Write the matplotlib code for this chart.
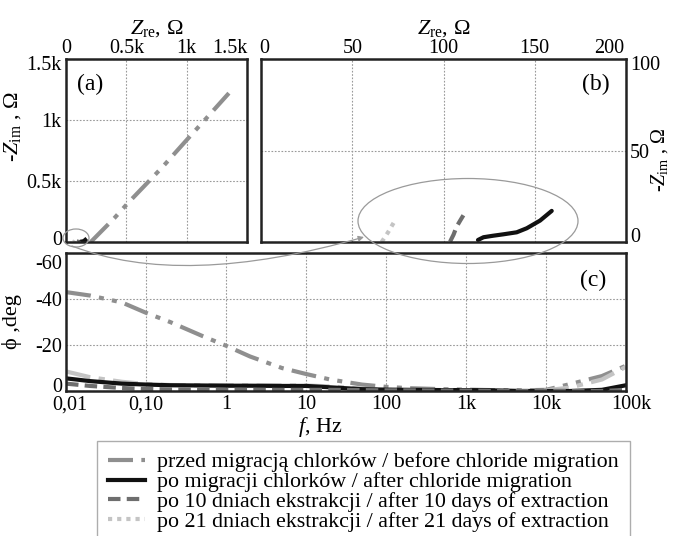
import matplotlib
matplotlib.use("Agg")
import matplotlib.pyplot as plt
from matplotlib.patches import Ellipse, FancyArrowPatch
from matplotlib.path import Path
from matplotlib.lines import Line2D
from matplotlib.transforms import ScaledTranslation

plt.rcParams['font.family'] = ['Liberation Serif', 'DejaVu Serif']
plt.rcParams['mathtext.fontset'] = 'custom'
plt.rcParams['mathtext.rm'] = 'Liberation Serif'
plt.rcParams['mathtext.it'] = 'Liberation Serif:italic'
plt.rcParams['font.size'] = 14

# ---------------- data ----------------
labels = ["przed migracją chlorków / before chloride migration",
          "po migracji chlorków / after chloride migration",
          "po 10 dniach ekstrakcji / after 10 days of extraction",
          "po 21 dniach ekstrakcji / after 21 days of extraction"]

# Nyquist data (Z_re, -Z_im), ohm
before_zre = [205, 300, 400, 514, 650, 800, 1000, 1150, 1350]
before_zim = [0, 95, 195, 320, 460, 615, 836, 1000, 1220]
after_zre = [118.9, 121.9, 127, 132.8, 140.1, 145.6, 152.9, 159.3]
after_zim = [1.1, 2.6, 3.4, 4.2, 5.3, 7.5, 11.7, 17.0]
d10_zre = [103.6, 105.5, 107.2, 109.2, 110.9]
d10_zim = [0.2, 4.0, 8.4, 11.8, 14.6]
d21_zre = [66.1, 68.0, 69.8, 71.8, 73.8]
d21_zim = [0.0, 2.8, 5.6, 9.0, 12.4]

# Bode phase data
freq = [0.01, 0.02, 0.05, 0.1, 0.2, 0.5, 1, 2, 5, 10, 20, 50, 100, 200, 500,
        1e3, 2e3, 5e3, 1e4, 2e4, 5e4, 1e5]
phase_before = [-43, -41.5, -38.5, -34, -30, -24, -19.7, -15, -10, -7.4, -5,
                -2.8, -1.8, -1.2, -0.8, -0.6, -0.4, -0.3, -0.5, -3, -6.5, -11]
phase_after = [-5.5, -4.3, -3.2, -2.8, -2.5, -2.4, -2.3, -2.3, -2.2, -2.2, -1.6,
               -0.8, -0.6, -0.5, -0.4, -0.4, -0.3, 0, 0, 0, -0.5, -2.5]
phase_d10 = [-3.2, -2.2, -1.3, -0.9, -0.7, -0.6, -0.5, -0.5, -0.5, -0.5, -0.5,
             -0.4, -0.3, -0.3, -0.2, -0.2, 0, 0, 0, 0, 0, -0.5]
phase_d21 = [-8.5, -6, -4, -3, -2.6, -2.5, -2.5, -2.4, -2.4, -2.4, -2.0,
             -1.0, -0.5, -0.3, -0.2, -0.2, 0, 0, -0.3, -1.5, -5, -10.5]

a_ticks = [0, 500, 1000, 1500]
a_ticklabels = ["0", "0.5k", "1k", "1.5k"]
b_xticks = [0, 50, 100, 150, 200]
b_yticks = [0, 50, 100]
c_yticks = [0, -20, -40, -60]
c_xticks = [0.01, 0.1, 1, 10, 100, 1e3, 1e4, 1e5]
c_xticklabels = ["0,01", "0,10", "1", "10", "100", "1k", "10k", "100k"]

# ---------------- styles ----------------
c_before = '#8f8f8f'
c_after = '#111111'
c_d10 = '#6e6e6e'
c_d21 = '#c4c4c4'
ls_before = (0, (6, 2, 1.2, 2, 1.2, 2))
ls_d10 = (0, (3, 1.5))
ls_d21 = (0, (1, 1.2))
lw = 3.0
TFS = 14.5

W, H = 673, 536
fig = plt.figure(figsize=(W / 100, H / 100), dpi=100)

def ax_rect(x0, y0, x1, y1):
    return [x0 / W, 1 - y1 / H, (x1 - x0) / W, (y1 - y0) / H]

axa = fig.add_axes(ax_rect(66, 59, 247, 242))
axb = fig.add_axes(ax_rect(261, 59, 626, 242))
axc = fig.add_axes(ax_rect(66, 253, 626, 391))

grid_kw = dict(color='#999999', linestyle=(0, (1.5, 1.5)), linewidth=0.8)

for ax in (axa, axb, axc):
    for s in ax.spines.values():
        s.set_linewidth(1.8)
        s.set_color('#222222')
    ax.tick_params(length=0, labelsize=TFS, pad=3)
    ax.grid(True, **grid_kw)
for ax in (axa, axb):
    ax.tick_params(axis='x', pad=1)

# ---- panel a ----
axa.plot(before_zre, before_zim, color=c_before, lw=lw, ls=ls_before)
axa.plot(after_zre, after_zim, color=c_after, lw=lw)
axa.plot(d10_zre, d10_zim, color=c_d10, lw=lw, ls=ls_d10)
axa.plot(d21_zre, d21_zim, color=c_d21, lw=lw, ls=ls_d21)
axa.set_xlim(0, 1500)
axa.set_ylim(0, 1500)
axa.set_xticks(a_ticks)
axa.set_xticklabels(a_ticklabels)
axa.set_yticks(a_ticks)
axa.set_yticklabels(a_ticklabels)
axa.xaxis.tick_top()
axa.xaxis.set_label_position('top')
axa.set_xlabel(r'$Z_{\rm re}$, Ω', fontsize=16, labelpad=4)
axa.set_ylabel(r'-$Z_{\rm im}$ , Ω', fontsize=16)
axa.yaxis.set_label_coords(-0.24, 0.63)
axa.text(0.06, 0.92, '(a)', transform=axa.transAxes, fontsize=17, va='top')

# ---- panel b ----
axb.plot(after_zre, after_zim, color=c_after, lw=lw, solid_capstyle='round')
axb.plot(d10_zre, d10_zim, color=c_d10, lw=lw, ls=ls_d10)
axb.plot(d21_zre, d21_zim, color=c_d21, lw=lw, ls=ls_d21)
axb.plot(before_zre, before_zim, color=c_before, lw=lw, ls=ls_before)
axb.set_xlim(0, 200)
axb.set_ylim(0, 100)
axb.set_xticks(b_xticks)
axb.set_yticks(b_yticks)
axb.xaxis.tick_top()
axb.xaxis.set_label_position('top')
axb.yaxis.tick_right()
axb.yaxis.set_label_position('right')
axb.set_xlabel(r'$Z_{\rm re}$, Ω', fontsize=16, labelpad=4)
axb.set_ylabel(r'-$Z_{\rm im}$ , Ω', fontsize=14.5, rotation=90)
axb.yaxis.set_label_coords(1.062, 0.45)
axb.text(0.955, 0.92, '(b)', transform=axb.transAxes, fontsize=17, va='top', ha='right')

# ---- panel c ----
axc.plot(freq, phase_before, color=c_before, lw=lw, ls=ls_before)
axc.plot(freq, phase_d21, color=c_d21, lw=lw, ls=(0, (6, 2, 1.5, 2)))
axc.plot(freq, phase_after, color=c_after, lw=lw)
axc.plot(freq, phase_d10, color=c_d10, lw=lw, ls=ls_d10)
axc.set_xscale('log')
axc.set_xlim(0.01, 1e5)
axc.set_ylim(0, -60)
axc.set_yticks(c_yticks)
axc.set_yticklabels([str(v) for v in c_yticks])
axc.set_xticks(c_xticks)
axc.set_xticklabels(c_xticklabels)
axc.minorticks_off()
axc.set_xlabel(r'$f$, Hz', fontsize=16)
axc.xaxis.set_label_coords(0.454, -0.175)
axc.set_ylabel('ϕ ,deg', fontsize=16)
axc.yaxis.set_label_coords(-0.078, 0.5)
axc.text(0.965, 0.88, '(c)', transform=axc.transAxes, fontsize=17, va='top', ha='right')

# ---- nudge edge tick labels inward, like the reference ----
def shift(lbl, dx, dy):
    lbl.set_transform(lbl.get_transform() +
                      ScaledTranslation(dx / 100, -dy / 100, fig.dpi_scale_trans))

ya = axa.get_yticklabels(); shift(ya[0], 0, -4); shift(ya[-1], 0, 4)
xa = axa.get_xticklabels(); xa[-1].set_ha('right')
yb = axb.get_yticklabels(); shift(yb[0], 0, -7); shift(yb[-1], 0, 4)
xb = axb.get_xticklabels(); xb[-1].set_ha('right'); shift(xb[-1], -2, 0); shift(xb[0], 3, 0)
yc = axc.get_yticklabels(); shift(yc[0], 0, -6); shift(yc[-1], 0, 9)
xc = axc.get_xticklabels(); shift(xc[0], 4, 0); shift(xc[-1], 5, 0)

# ---- zoom ellipses and connector (figure pixel coords) ----
def fp(x, y):
    return (x / W, 1 - y / H)

e_col = '#9a9a9a'
fig.patches.append(Ellipse(fp(76, 238), 26 / W, 18 / H, transform=fig.transFigure,
                           fill=False, edgecolor=e_col, lw=0.9, zorder=10))
fig.patches.append(Ellipse(fp(468, 221), 220 / W, 85 / H, transform=fig.transFigure,
                           fill=False, edgecolor=e_col, lw=0.9, zorder=10))
pth = Path([fp(72, 246), fp(182, 289), fp(364, 237)],
           [Path.MOVETO, Path.CURVE3, Path.CURVE3])
arr = FancyArrowPatch(path=pth, arrowstyle='-|>', mutation_scale=8,
                      color=e_col, lw=0.9, transform=fig.transFigure, zorder=10)
fig.patches.append(arr)

# ---- legend ----
handles = [Line2D([], [], color=c_before, lw=lw, ls=ls_before),
           Line2D([], [], color=c_after, lw=lw),
           Line2D([], [], color=c_d10, lw=lw, ls=ls_d10),
           Line2D([], [], color=c_d21, lw=lw, ls=ls_d21)]
leg = fig.legend(handles, labels, loc='upper left',
                 bbox_to_anchor=(97 / W, 1 - 441 / H), fontsize=15.8,
                 frameon=True, fancybox=False, edgecolor='#999999',
                 handlelength=1.7, handletextpad=0.55, labelspacing=-0.02,
                 borderpad=0.5, borderaxespad=0)
leg.get_frame().set_linewidth(1.0)

fig.savefig('out.png', dpi=100)
